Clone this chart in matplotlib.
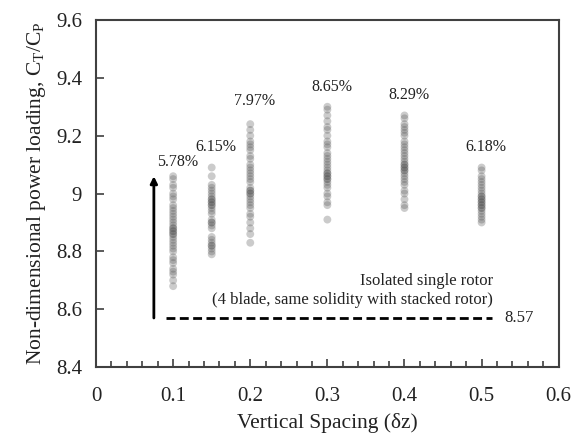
import matplotlib
matplotlib.use("Agg")
import matplotlib.pyplot as plt
import numpy as np
from matplotlib.ticker import MultipleLocator

plt.rcParams['font.family'] = ['Liberation Serif', 'DejaVu Serif']
plt.rcParams['mathtext.fontset'] = 'custom'
plt.rcParams['mathtext.rm'] = 'Liberation Serif'

# CT/CP samples for each vertical spacing
spacing = [0.1, 0.15, 0.2, 0.3, 0.4, 0.5]
load_010 = [9.06, 9.05, 9.03, 9.02, 9.00, 8.99, 8.98, 8.96, 8.95, 8.94, 8.93, 8.92,
            8.91, 8.90, 8.89, 8.88, 8.88, 8.87, 8.87, 8.86, 8.86, 8.85, 8.84, 8.83,
            8.82, 8.81, 8.80, 8.78, 8.77, 8.76, 8.74, 8.73, 8.72, 8.70, 8.68]
load_015 = [9.09, 9.06, 9.03, 9.02, 9.01, 9.00, 8.99, 8.98, 8.98, 8.97, 8.97, 8.96,
            8.96, 8.95, 8.94, 8.93, 8.91, 8.90, 8.90, 8.89, 8.88, 8.85, 8.84, 8.83,
            8.82, 8.82, 8.81, 8.80, 8.79]
load_020 = [9.24, 9.22, 9.20, 9.18, 9.17, 9.16, 9.15, 9.13, 9.12, 9.10, 9.09, 9.08,
            9.07, 9.06, 9.05, 9.04, 9.02, 9.01, 9.01, 9.00, 9.00, 8.99, 8.98, 8.97,
            8.96, 8.95, 8.93, 8.92, 8.90, 8.88, 8.86, 8.83]
load_030 = [9.30, 9.29, 9.27, 9.25, 9.23, 9.22, 9.20, 9.18, 9.17, 9.16, 9.14, 9.13,
            9.12, 9.11, 9.10, 9.09, 9.08, 9.07, 9.07, 9.06, 9.06, 9.05, 9.05, 9.04,
            9.03, 9.02, 9.00, 8.99, 8.97, 8.96, 8.91]
load_040 = [9.27, 9.26, 9.24, 9.23, 9.22, 9.21, 9.20, 9.18, 9.17, 9.16, 9.15, 9.14,
            9.13, 9.12, 9.11, 9.10, 9.10, 9.09, 9.09, 9.08, 9.08, 9.07, 9.06, 9.05,
            9.04, 9.03, 9.01, 9.00, 8.98, 8.96, 8.95]
load_050 = [9.09, 9.08, 9.06, 9.05, 9.04, 9.03, 9.02, 9.01, 9.00, 8.99, 8.99, 8.98,
            8.98, 8.97, 8.97, 8.96, 8.96, 8.95, 8.95, 8.94, 8.93, 8.92, 8.91, 8.90]
loads = [load_010, load_015, load_020, load_030, load_040, load_050]

# percentage gain labels and where they sit
gain_text = ["5.78%", "6.15%", "7.97%", "8.65%", "8.29%", "6.18%"]
gain_y = [9.11, 9.16, 9.32, 9.37, 9.34, 9.16]

isolated = 8.57

fig = plt.figure(figsize=(5.82, 4.34), dpi=100)
ax = fig.add_axes([0.165, 0.154, 0.795, 0.800])

for x, vals in zip(spacing, loads):
    ax.scatter(np.full(len(vals), x), vals, s=32, color='#555555', alpha=0.3,
               edgecolors='none', zorder=3)

for x, t, y in zip(spacing, gain_text, gain_y):
    ax.text(x + 0.006, y, t, ha='center', va='center', fontsize=11.5, color='#222222')

# single rotor reference line
ax.plot([0.091, 0.514], [isolated, isolated], color='black', lw=2, ls=(0, (3.2, 1.6)))
ax.text(0.53, isolated, "8.57", ha='left', va='center', fontsize=12, color='#222222')
ax.text(0.515, 8.665, "Isolated single rotor\n(4 blade, same solidity with stacked rotor)",
        ha='right', va='center', multialignment='right', fontsize=12,
        color='#222222', linespacing=1.3)

ax.annotate("", xy=(0.075, max(load_010)), xytext=(0.075, isolated),
            arrowprops=dict(arrowstyle='-|>', color='black', lw=2,
                            mutation_scale=10, shrinkA=0, shrinkB=0))

ax.set_xlim(0, 0.6)
ax.set_ylim(8.4, 9.6)
ax.xaxis.set_minor_locator(MultipleLocator(0.02))
ax.set_xticks([0, 0.1, 0.2, 0.3, 0.4, 0.5, 0.6])
ax.set_xticklabels(["0", "0.1", "0.2", "0.3", "0.4", "0.5", "0.6"])
ax.set_yticks([8.4, 8.6, 8.8, 9.0, 9.2, 9.4, 9.6])
ax.set_yticklabels(["8.4", "8.6", "8.8", "9", "9.2", "9.4", "9.6"])
ax.tick_params(which='both', direction='in', colors='#404040', labelcolor='#222222',
               labelsize=15, width=1.2)
ax.tick_params(which='major', length=6)
ax.tick_params(axis='x', which='major', pad=14)
ax.tick_params(axis='y', which='major', pad=10)
ax.tick_params(which='minor', length=4)
for sp in ax.spines.values():
    sp.set_color('#404040')
    sp.set_linewidth(1.5)

ax.set_xlabel("Vertical Spacing (δz)", fontsize=15.5, color='#222222', labelpad=5)
ax.set_ylabel("Non-dimensional power loading, C$_\\mathrm{T}$/C$_\\mathrm{P}$",
              fontsize=15.5, color='#222222', labelpad=6)

fig.savefig("out.png", dpi=100)
